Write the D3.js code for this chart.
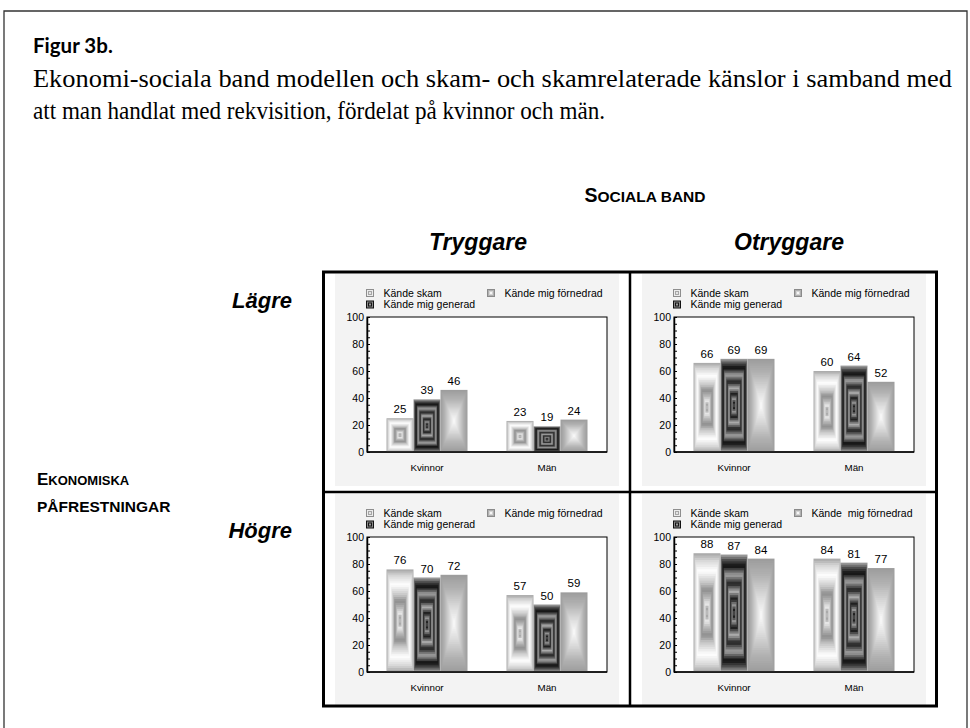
<!DOCTYPE html>
<html>
<head>
<meta charset="utf-8">
<script src="https://cdn.jsdelivr.net/npm/d3@7"></script>
<style>
  body { margin: 0; background: #fff; }
  svg { display: block; }
  text { font-family: "Liberation Sans", Arial, sans-serif; }
</style>
</head>
<body>
<svg id="fig" width="970" height="728"></svg>
<script>
// data
const categories = ["Kvinnor", "Män"];
const seriesNames = ["Kände skam", "Kände mig generad", "Kände mig förnedrad"];
const rowLabels = ["Lägre", "Högre"];
const colLabels = ["Tryggare", "Otryggare"];
// [kategori][serie]
const lagreTryggare = [[25, 39, 46], [23, 19, 24]];
const lagreOtryggare = [[66, 69, 69], [60, 64, 52]];
const hogreTryggare = [[76, 70, 72], [57, 50, 59]];
const hogreOtryggare = [[88, 87, 84], [84, 81, 77]];
const yTicks = [0, 20, 40, 60, 80, 100];

const panels = [
  { row: 0, col: 0, values: lagreTryggare, third: "Kände mig förnedrad" },
  { row: 0, col: 1, values: lagreOtryggare, third: "Kände mig förnedrad" },
  { row: 1, col: 0, values: hogreTryggare, third: "Kände mig förnedrad" },
  { row: 1, col: 1, values: hogreOtryggare, third: "Kände  mig förnedrad" },
];

// gray "fill effect" stops, 0 = edge, 1 = centre
const fills = [
  [[0, "#a4a4a4"], [0.12, "#d6d6d6"], [0.3, "#ffffff"], [0.5, "#c6c6c6"], [0.62, "#8e8e8e"], [0.76, "#bcbcbc"], [0.86, "#ececec"], [0.93, "#a0a0a0"], [1, "#d8d8d8"]],
  [[0, "#a8a8a8"], [0.1, "#4a4a4a"], [0.2, "#0c0c0c"], [0.35, "#a4a4a4"], [0.5, "#1c1c1c"], [0.63, "#b0b0b0"], [0.76, "#141414"], [0.86, "#9a9a9a"], [0.94, "#1c1c1c"], [1, "#8a8a8a"]],
  [[0, "#9c9c9c"], [0.3, "#b2b2b2"], [0.7, "#dedede"], [1, "#fafafa"]],
];
const iconFills = [
  ["#8e8e8e", "#ececec", "#a6a6a6", "#e4e4e4"],
  ["#111111", "#8a8a8a", "#151515", "#9a9a9a"],
  ["#8a8a8a", "#b0b0b0", "#d4d4d4", "#f6f6f6"],
];

const svg = d3.select("#fig");
svg.append("rect").attr("width", 970).attr("height", 728).attr("fill", "#fff");

// outer frame
svg.append("path")
  .attr("d", "M4,728 V11 H967 V728")
  .attr("fill", "none").attr("stroke", "#333").attr("stroke-width", 1.3);

svg.append("text").attr("x", 33).attr("y", 53)
  .style("font-family", "Lato, 'Open Sans', sans-serif")
  .style("font-weight", 700).style("font-size", "20.5px")
  .text("Figur 3b.");

svg.append("text").attr("x", 33).attr("y", 87)
  .style("font-family", "'Liberation Serif', serif").style("font-size", "25px")
  .attr("textLength", 919).attr("lengthAdjust", "spacingAndGlyphs")
  .text("Ekonomi-sociala band modellen och skam- och skamrelaterade känslor i samband med");
svg.append("text").attr("x", 33).attr("y", 119)
  .style("font-family", "'Liberation Serif', serif").style("font-size", "25px")
  .attr("textLength", 572).attr("lengthAdjust", "spacingAndGlyphs")
  .text("att man handlat med rekvisition, fördelat på kvinnor och män.");

// small caps headings
function smallCaps(x, y, anchor, parts) {
  const t = svg.append("text").attr("x", x).attr("y", y)
    .attr("text-anchor", anchor).style("font-weight", 700);
  parts.forEach(p => t.append("tspan").style("font-size", p[1] + "px").text(p[0]));
}
smallCaps(645, 202, "middle", [["S", 19.5], ["OCIALA BAND", 15.5]]);
smallCaps(37, 485, "start", [["E", 17], ["KONOMISKA", 13]]);
smallCaps(37, 512, "start", [["PÅFRESTNINGAR", 15.5]]);

const cellX = [323, 630];
const cellY = [272, 492];

const colLabelX = [478, 789];
colLabels.forEach((c, i) => {
  svg.append("text").attr("x", colLabelX[i]).attr("y", 250)
    .attr("text-anchor", "middle")
    .style("font-weight", 700).style("font-style", "italic").style("font-size", "23px")
    .text(c);
});
const rowLabelY = [308, 538];
rowLabels.forEach((r, i) => {
  svg.append("text").attr("x", 292).attr("y", rowLabelY[i])
    .attr("text-anchor", "end")
    .style("font-weight", 700).style("font-style", "italic").style("font-size", "22px")
    .text(r);
});

function boxFill(g, x, y, w, h, stops, steps) {
  const col = d3.scaleLinear()
    .domain(stops.map(d => d[0])).range(stops.map(d => d[1]))
    .interpolate(d3.interpolateRgb).clamp(true);
  d3.range(steps).forEach(i => {
    const t = i / steps;
    g.append("rect")
      .attr("x", x + t * w / 2).attr("y", y + t * h / 2)
      .attr("width", w * (1 - t)).attr("height", h * (1 - t))
      .attr("fill", col(t + 0.5 / steps));
  });
}

panels.forEach(p => {
  const ox = cellX[p.col], oy = cellY[p.row];
  const g = svg.append("g");

  g.append("rect").attr("x", ox + 12).attr("y", oy + 2)
    .attr("width", 284).attr("height", 212).attr("fill", "#f3f3f3");

  const px0 = ox + 44, px1 = ox + 284, py0 = oy + 45, py1 = oy + 180;
  g.append("rect").attr("x", px0).attr("y", py0)
    .attr("width", px1 - px0).attr("height", py1 - py0)
    .attr("fill", "#fff").attr("stroke", "#000").attr("stroke-width", 1);

  const x = d3.scaleBand().domain(categories).range([px0, px1])
    .paddingInner(0.325).paddingOuter(0.1625);
  const xs = d3.scaleBand().domain(d3.range(3)).range([0, x.bandwidth()]);
  const y = d3.scaleLinear().domain([0, 100]).range([py1, py0]);

  // bars
  categories.forEach((c, ci) => {
    p.values[ci].forEach((v, si) => {
      const bx = x(c) + xs(si), by = y(v);
      boxFill(g.append("g"), bx, by, xs.bandwidth(), y(0) - by, fills[si], 26);
      g.append("text").attr("x", bx + xs.bandwidth() / 2).attr("y", by - 5)
        .attr("text-anchor", "middle").style("font-size", "11.5px").text(v);
    });
  });

  // y axis, ticks inside
  const ya = d3.axisRight(y).tickValues(d3.range(0, 101, 5)).tickSize(3).tickFormat("");
  g.append("g").attr("transform", `translate(${px0},0)`).call(ya)
    .call(a => a.select(".domain").remove())
    .selectAll("line").attr("stroke", "#000");
  g.append("g").attr("transform", `translate(${px0},0)`)
    .call(d3.axisLeft(y).tickValues(yTicks).tickSize(0).tickPadding(3))
    .call(a => a.select(".domain").attr("stroke", "#000").attr("stroke-width", 1.5))
    .selectAll("text").style("font-size", "10.5px").style("font-family", "'Liberation Sans', Arial, sans-serif").attr("fill", "#000");
  g.append("line").attr("x1", px0).attr("x2", px1).attr("y1", py1).attr("y2", py1)
    .attr("stroke", "#000").attr("stroke-width", 1.5);

  // x labels
  g.append("g").attr("transform", `translate(0,${py1})`)
    .call(d3.axisBottom(x).tickSize(0).tickPadding(12))
    .call(a => a.select(".domain").remove())
    .selectAll("text").style("font-size", "9.8px").style("font-family", "'Liberation Sans', Arial, sans-serif").attr("fill", "#000");

  // legend
  const legendItems = [
    { name: seriesNames[0], lx: 47, ly: 21 },
    { name: seriesNames[1], lx: 47, ly: 32.5 },
    { name: p.third, lx: 168, ly: 21 },
  ];
  legendItems.forEach((d, si) => {
    const ig = g.append("g");
    iconFills[si].forEach((c, k) => {
      ig.append("rect").attr("x", ox + d.lx - 4 + k).attr("y", oy + d.ly - 4 + k)
        .attr("width", 8 - 2 * k).attr("height", 8 - 2 * k).attr("fill", c);
    });
    g.append("text").attr("x", ox + d.lx + 13.5).attr("y", oy + d.ly + 3.8)
      .style("font-size", "10.5px").style("white-space", "pre").text(d.name);
  });
});

// grid lines
svg.append("rect").attr("x", 323.5).attr("y", 272).attr("width", 613).attr("height", 434)
  .attr("fill", "none").attr("stroke", "#000").attr("stroke-width", 3);
svg.append("line").attr("x1", 630).attr("x2", 630).attr("y1", 272).attr("y2", 706)
  .attr("stroke", "#000").attr("stroke-width", 2.5);
svg.append("line").attr("x1", 323).attr("x2", 937).attr("y1", 492).attr("y2", 492)
  .attr("stroke", "#000").attr("stroke-width", 2.5);
</script>
</body>
</html>
